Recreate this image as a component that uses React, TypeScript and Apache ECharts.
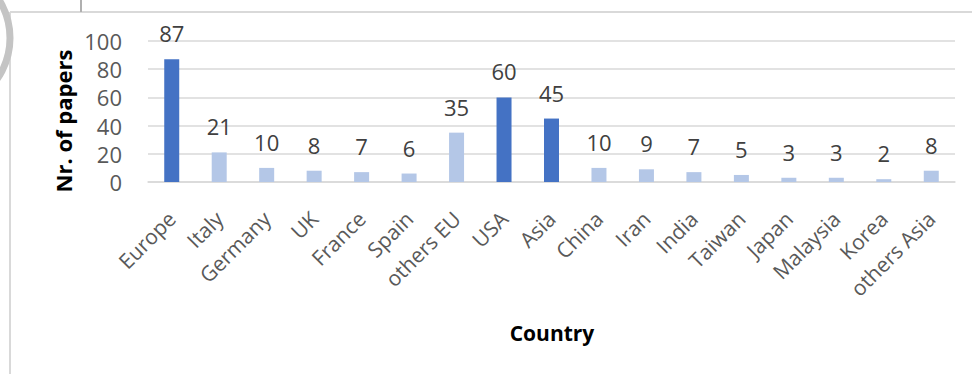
import React, { useEffect, useRef } from "react";
import * as echarts from "echarts";

const countries = [
  "Europe", "Italy", "Germany", "UK", "France", "Spain", "others EU",
  "USA", "Asia", "China", "Iran", "India", "Taiwan", "Japan", "Malaysia",
  "Korea", "others Asia",
];
const papers = [87, 21, 10, 8, 7, 6, 35, 60, 45, 10, 9, 7, 5, 3, 3, 2, 8];
// regional totals are drawn in the darker shade
const regionTotals = ["Europe", "USA", "Asia"];
const yTicks = { min: 0, max: 100, interval: 20 };

const DARK = "#4472C4";
const LIGHT = "#B4C7E7";
const FONT = "'Open Sans', 'Liberation Sans', sans-serif";

export default function App() {
  const ref = useRef<HTMLDivElement>(null);

  useEffect(() => {
    if (!ref.current) return;
    const chart = echarts.init(ref.current, null, { renderer: "svg" });
    chart.setOption({
      animation: false,
      backgroundColor: "#ffffff",
      grid: { left: 148, right: 17, top: 41, bottom: 192, containLabel: false },
      xAxis: {
        type: "category",
        data: countries,
        axisLine: { show: true, lineStyle: { color: "#d9d9d9", width: 1.5 } },
        axisTick: { show: false },
        axisLabel: {
          rotate: 45,
          interval: 0,
          margin: 33,
          color: "#595959",
          fontSize: 21,
          fontFamily: FONT,
        },
      },
      yAxis: {
        type: "value",
        min: yTicks.min,
        max: yTicks.max,
        interval: yTicks.interval,
        axisLine: { show: false },
        axisTick: { show: false },
        splitLine: { lineStyle: { color: "#d9d9d9", width: 1.5 } },
        axisLabel: { color: "#595959", fontSize: 22, fontFamily: FONT, margin: 26 },
      },
      series: [
        {
          type: "bar",
          barWidth: 15,
          data: papers.map((v, i) => ({
            value: v,
            itemStyle: { color: regionTotals.includes(countries[i]) ? DARK : LIGHT },
          })),
          label: {
            show: true,
            position: "top",
            distance: 15,
            color: "#404040",
            fontSize: 22,
            fontFamily: FONT,
          },
        },
      ],
      graphic: [
        // chart area frame
        {
          type: "line",
          shape: { x1: 10, y1: 12, x2: 972, y2: 12 },
          style: { stroke: "#d9d9d9", lineWidth: 2 },
        },
        {
          type: "line",
          shape: { x1: 10, y1: 12, x2: 10, y2: 374 },
          style: { stroke: "#d9d9d9", lineWidth: 2 },
        },
        // grey marks in the top-left margin
        {
          type: "arc",
          shape: { cx: -62, cy: 38, r: 72, startAngle: -0.9, endAngle: 0.9 },
          style: { stroke: "#c4c4c4", lineWidth: 7, fill: "none" },
        },
        {
          type: "line",
          shape: { x1: 81, y1: 0, x2: 81, y2: 12 },
          style: { stroke: "#b0b0b0", lineWidth: 2 },
        },
        {
          type: "text",
          x: 63,
          y: 121,
          rotation: Math.PI / 2,
          style: {
            text: "Nr. of papers",
            fill: "#000000",
            font: `bold 22px ${FONT}`,
            align: "center",
            verticalAlign: "middle",
          },
        },
        {
          type: "text",
          x: 552,
          y: 333,
          style: {
            text: "Country",
            fill: "#000000",
            font: `bold 21px ${FONT}`,
            align: "center",
            verticalAlign: "middle",
          },
        },
      ],
    });
    return () => chart.dispose();
  }, []);

  return (
    <div
      ref={ref}
      style={{ position: "fixed", left: 0, top: 0, width: 972, height: 374 }}
    />
  );
}
